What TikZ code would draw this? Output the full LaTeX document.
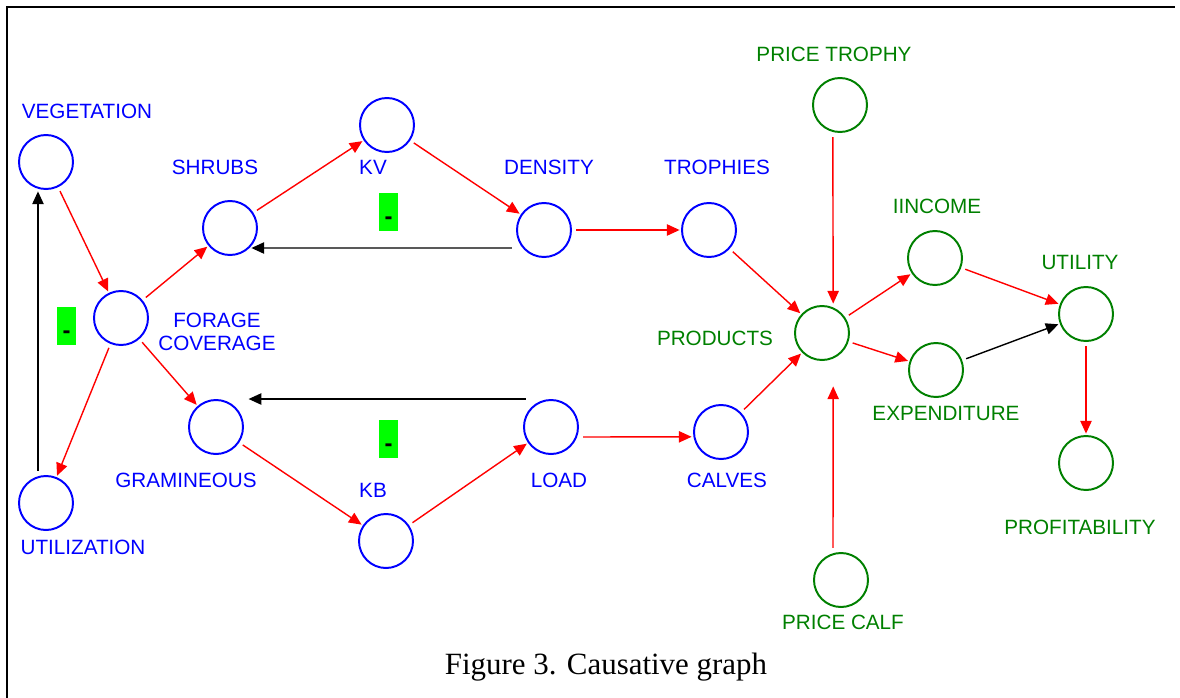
\documentclass[tikz,border=0pt]{standalone}
\usepackage{fontspec}
\setmainfont{Liberation Serif}
\newfontfamily\arialfont{Liberation Sans}
\usetikzlibrary{arrows.meta}

\begin{document}
\begin{tikzpicture}[x=0.025cm,y=-0.025cm,
        var/.style={circle,draw=blue,line width=1.4pt,minimum size=1.35cm,inner sep=0pt},
        eco/.style={var,draw=green!50!black},
        vtxt/.style={text=blue,font=\arialfont\fontsize{14.7}{16.5}\selectfont,align=center,inner sep=0pt},
        etxt/.style={vtxt,text=green!50!black},
        poslink/.style={draw=red,line width=1pt,-{Triangle[length=9pt,width=8pt]},shorten <=3pt,shorten >=1pt},
        neglink/.style={poslink,draw=black},
        sign/.style={fill=green,minimum width=0.475cm,minimum height=0.95cm,inner sep=0pt,
            label={[font=\arialfont\bfseries\fontsize{17}{17}\selectfont,inner sep=0pt,yshift=-0.22cm]center:-}}]
        \useasboundingbox (0,0) rectangle (1180,698);
        \draw[line width=1.4pt] (7,720) -- (7,7) -- (1175,7);

        \node[var] (veg) at (46,162) {};
        \node[var] (util) at (46,503) {};
        \node[var] (forage) at (121,318) {};
        \node[var] (shrubs) at (230,228) {};
        \node[var] (gram) at (216,427) {};
        \node[var] (kv) at (387,125) {};
        \node[var] (kb) at (386,541) {};
        \node[var] (density) at (544,230) {};
        \node[var] (load) at (551,427) {};
        \node[var] (trophies) at (709,230) {};
        \node[var] (calves) at (721,432) {};
        \node[eco] (products) at (822,333) {};
        \node[eco] (ptrophy) at (840,105) {};
        \node[eco] (pcalf) at (841,580) {};
        \node[eco] (income) at (935,258) {};
        \node[eco] (expend) at (936,370) {};
        \node[eco] (utility) at (1086,314) {};
        \node[eco] (profit) at (1086,463) {};

        \node[vtxt] (veglbl) at (87,111) {VEGETATION};
        \node[vtxt] (utillbl) at (83,547) {UTILIZATION};
        \node[vtxt] (foragelbl) at (217,332) {FORAGE\\COVERAGE};
        \node[vtxt] (shrubslbl) at (215,167) {SHRUBS};
        \node[vtxt] (gramlbl) at (186,480) {GRAMINEOUS};
        \node[vtxt] (kvlbl) at (373,167) {KV};
        \node[vtxt] (kblbl) at (373,490) {KB};
        \node[vtxt] (densitylbl) at (549,167) {DENSITY};
        \node[vtxt] (loadlbl) at (559,480) {LOAD};
        \node[vtxt] (trophieslbl) at (717,167) {TROPHIES};
        \node[vtxt] (calveslbl) at (727,480) {CALVES};
        \node[etxt] (productslbl) at (715,338) {PRODUCTS};
        \node[etxt] (ptrophylbl) at (834,54) {PRICE TROPHY};
        \node[etxt] (pcalflbl) at (843,622) {PRICE CALF};
        \node[etxt] (incomelbl) at (937,206) {IINCOME};
        \node[etxt] (expendlbl) at (946,413) {EXPENDITURE};
        \node[etxt] (utilitylbl) at (1080,262) {UTILITY};
        \node[etxt] (profitlbl) at (1080,527) {PROFITABILITY};

        \node[sign] (s1) at (66.5,326) {};
        \node[sign] (s2) at (388.5,212) {};
        \node[sign] (s3) at (388.5,439) {};

        \draw[poslink] (veg) -- (forage);
        \draw[poslink] (forage) -- (shrubs);
        \draw[poslink] (forage) -- (gram);
        \draw[poslink] (forage) -- (util);
        \draw[neglink] ([xshift=-0.2cm]util.north) -- ([xshift=-0.2cm]veg.south);
        \draw[poslink] (shrubs) -- (kv);
        \draw[poslink] (kv) -- (density);
        \draw[neglink] ([yshift=-0.45cm]density.west) -- ([xshift=0.5cm,yshift=-0.5cm]shrubs.center);
        \draw[poslink] (density) -- (trophies);
        \draw[poslink] (gram) -- (kb);
        \draw[poslink] (kb) -- (load);
        \draw[neglink] ([xshift=-0.53cm]load.north) -- ([xshift=0.78cm]gram.north);
        \draw[poslink] ([yshift=-0.25cm]load.east) -- ([yshift=-0.12cm]calves.west);
        \draw[poslink] (trophies) -- (products);
        \draw[poslink] (calves) -- (products);
        \draw[poslink] ([xshift=-0.18cm]ptrophy.south) -- ([xshift=0.28cm]products.north);
        \draw[poslink] ([xshift=-0.2cm]pcalf.north) -- ([xshift=0.28cm,yshift=-0.6cm]products.south);
        \draw[poslink] (products) -- (income);
        \draw[poslink] (products) -- (expend);
        \draw[poslink] (income) -- (utility);
        \draw[neglink] (expend) -- (utility);
        \draw[poslink] (utility) -- (profit);

        \node (caption) at (606,667) {\fontsize{22}{26}\selectfont Figure 3. Causative graph};
    \end{tikzpicture}
\end{document}
